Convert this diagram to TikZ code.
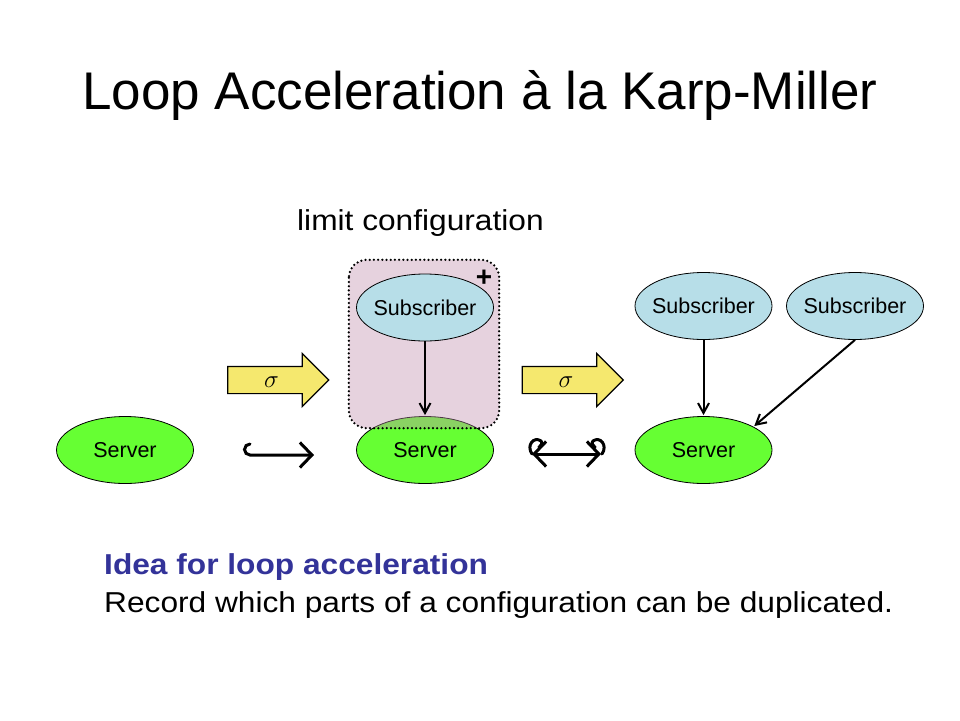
\documentclass[tikz,border=0pt]{standalone}
\usepackage{fontspec}
\setmainfont{Liberation Sans}
\newfontfamily\bodyfont[FakeStretch=1.1]{Liberation Sans}
\usepackage{amsmath}
\usetikzlibrary{positioning, calc, shapes, arrows.meta}
\definecolor{subblue}{RGB}{183,222,232}
\definecolor{srvgreen}{RGB}{102,255,51}
\definecolor{sigyellow}{RGB}{245,232,110}
\definecolor{limitpink}{RGB}{193,143,173}
\definecolor{ideablue}{RGB}{51,51,153}

\begin{document}
\begin{tikzpicture}[x=1pt, y=-1pt, >={Straight Barb[length=10pt,width=11pt]}, shorten >=1pt,
				node distance=3cm, on grid,
				sub/.style={ellipse, draw, line width=0.8pt, fill=subblue, minimum width=137pt, minimum height=67pt,
					inner sep=0pt, inner xsep=-8pt, font=\fontsize{21.5}{24}\selectfont},
				srv/.style={ellipse, draw, line width=0.8pt, fill=srvgreen, minimum width=137pt, minimum height=67pt,
					inner sep=0pt, font=\fontsize{21.5}{24}\selectfont},
				sigarrow/.style={single arrow, draw, line width=1.2pt, fill=sigyellow, minimum height=101pt,
					single arrow head extend=13pt, inner sep=6pt, text height=14pt, text depth=0pt,
					font=\fontsize{28}{30}\selectfont},
				link/.style={->, line width=2pt},
				hookline/.style={line width=3pt, line cap=round},
				body/.style={inner sep=0pt, font=\bodyfont\fontsize{28.8}{34}\selectfont}]
				\fill[white] (0,0) rectangle (960,720);
				\useasboundingbox (0,0) rectangle (960,720);
				
				\node[anchor=base, inner sep=0pt, font=\fontsize{53}{60}\selectfont] (title) at (480,109)
					{Loop Acceleration à la Karp-Miller};
				\node[body, anchor=base west] (limitlbl) at (297,230) {limit configuration};
				
				%Servidores e assinantes:
				\node[srv]                    (srvA) at (125,450) {Server};
				\node[srv, right=300pt of srvA]   (srvB) {Server};
				\node[srv, right=278.5pt of srvB] (srvC) {Server};
				\node[fill=limitpink, fill opacity=0.4, rounded corners=18pt, minimum width=150pt,
					minimum height=168pt] (limit) at (424,344) {};
				\node[sub, above=142.5pt of srvB] (subB) {Subscriber};
				\node[sub, above=144pt of srvC]   (subC) {Subscriber};
				\node[sub, right=151.5pt of subC] (subD) {Subscriber};
				\draw[line width=2.5pt, line cap=round, dash pattern=on 0pt off 4.2pt, rounded corners=18pt]
					(limit.north west) rectangle (limit.south east);
				\node[font=\bfseries\fontsize{28}{30}\selectfont, inner sep=0pt] (plus) at (484,278) {+};
				
				\path[link]
				(subB) edge (srvB)
				(subC) edge (srvC)
				(subD.south) edge (srvC.25);
				
				%Setas sigma:
				\node[sigarrow] (sigA) at (271.5,380) {$\sigma$};
				\node[sigarrow] (sigB) at (566,380)   {$\sigma$};
				
				%Ganchos:
				\coordinate (hkA) at (250,444);
				\coordinate (hkB) at (315,455);
				\draw[hookline, -{Straight Barb[length=12pt,width=25pt]}]
					(hkA) arc[start angle=270, end angle=90, radius=5.5] -- (hkB);
				\coordinate (dhA) at (532,454);
				\coordinate (dhB) at (602,454);
				\draw[hookline, {Straight Barb[length=12pt,width=25pt]}-{Straight Barb[length=12pt,width=25pt]}]
					(dhA) -- (dhB);
				\draw[hookline] (dhA) .. controls (526,445) and (534,436) .. (541,441)
					.. controls (543,443) and (541,446) .. (538,448);
				\draw[hookline] (dhB) .. controls (608,445) and (600,436) .. (593,441)
					.. controls (591,443) and (593,446) .. (596,448);
				
				\node[body, anchor=base west, text=ideablue, font=\bodyfont\bfseries\fontsize{28.8}{34}\selectfont]
					(idea) at (104,574) {Idea for loop acceleration};
				\node[body, anchor=base west] (record) at (104,612)
					{Record which parts of a configuration can be duplicated.};
			\end{tikzpicture}
\end{document}
